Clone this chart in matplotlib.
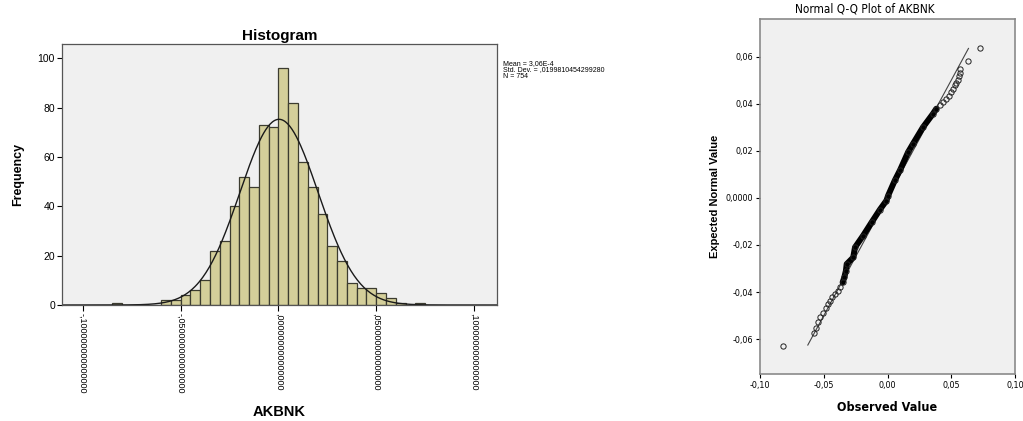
import numpy as np
import matplotlib
matplotlib.use("Agg")
import matplotlib.pyplot as plt

# histogram of AKBNK returns (bins of width 0.005, left edges)
bin_width = 0.005
bin_left = np.round(np.arange(-0.085, 0.0705, bin_width), 3)
counts = [1, 0, 0, 0, 0, 2, 2, 4, 6, 10,
          22, 26, 40, 52, 48, 73, 72, 96, 82, 58,
          48, 37, 24, 18, 9, 7, 7, 5, 3, 1,
          0, 1]
mean = 3.06e-4
std = 0.0199810454299280
n = 754

hist_xticks = [-0.10, -0.05, 0.00, 0.05, 0.10]
hist_yticks = [0, 20, 40, 60, 80, 100]

# normal Q-Q points (observed, expected)
qq_observed = [-0.0816, -0.0573, -0.0563, -0.0547, -0.0529, -0.0503, -0.0484,
               -0.0469, -0.0451, -0.0433, -0.0412, -0.0391, -0.0373, -0.0352,
               -0.0339, -0.0326, -0.0320, -0.0269, -0.0255, -0.0191, -0.0125,
               -0.0060, -0.0008, 0.0005, 0.0057, 0.0100, 0.0161, 0.0200,
               0.0278, 0.0356, 0.0383, 0.0409, 0.0434, 0.0461, 0.0481, 0.0500,
               0.0513, 0.0526, 0.0539, 0.0552, 0.0559, 0.0565, 0.0570, 0.0635,
               0.0727]
qq_expected = [-0.0628, -0.0572, -0.0551, -0.0526, -0.0504, -0.0487, -0.0466,
               -0.0451, -0.0437, -0.0423, -0.0408, -0.0394, -0.0380, -0.0359,
               -0.0338, -0.0309, -0.0281, -0.0253, -0.0210, -0.0160, -0.0104,
               -0.0050, -0.0011, 0.0010, 0.0074, 0.0120, 0.0194, 0.0230,
               0.0300, 0.0357, 0.0379, 0.0393, 0.0407, 0.0421, 0.0435, 0.0449,
               0.0464, 0.0478, 0.0489, 0.0503, 0.0517, 0.0532, 0.0549, 0.0580,
               0.0637]
qq_line = [-0.0625, 0.0635]

qq_xticks = [-0.10, -0.05, 0.00, 0.05, 0.10]
qq_xlabels = ["-0,10", "-0,05", "0,00", "0,05", "0,10"]
qq_yticks = [-0.06, -0.04, -0.02, 0.0, 0.02, 0.04, 0.06]
qq_ylabels = ["-0,06", "-0,04", "-0,02", "0,0000", "0,02", "0,04", "0,06"]

plt.rcParams['font.family'] = ['Liberation Sans', 'DejaVu Sans']
narrow = ['Liberation Sans Narrow', 'DejaVu Sans']
bg = '#f0f0f0'

fig = plt.figure(figsize=(10.23, 4.21), dpi=100)

# ---- histogram ----
ax = fig.add_axes([62 / 1023, 116 / 421, 435 / 1023, 261 / 421])
ax.set_facecolor(bg)
ax.bar(bin_left, counts, width=bin_width, align='edge', color='#d4cf9a',
       edgecolor='#3c3c30', linewidth=0.9)
xs = np.linspace(-0.1106, 0.1117, 400)
curve = n * bin_width * np.exp(-0.5 * ((xs - mean) / std) ** 2) / (std * np.sqrt(2 * np.pi))
ax.plot(xs, curve, color='#1a1a1a', linewidth=1.0)
ax.set_xlim(-0.1106, 0.1117)
ax.set_ylim(0, 105.8)
ax.set_xticks(hist_xticks)
ax.set_xticklabels([f"{v:.15f}".replace("0.", ",", 1) for v in hist_xticks],
                   rotation=-90, fontsize=6.5)
ax.set_yticks(hist_yticks)
ax.tick_params(axis='y', labelsize=7.5, length=3.5, width=0.8, pad=1.5)
ax.tick_params(axis='x', length=4, width=0.8, pad=2)
for s in ax.spines.values():
    s.set_color('#555555')
    s.set_linewidth(0.9)
ax.set_title("Histogram", fontsize=11, fontweight='bold', pad=3)
ax.set_ylabel("Frequency", fontsize=9, fontweight='bold', labelpad=10)
ax.set_xlabel("AKBNK", fontsize=10.5, fontweight='bold', labelpad=8)
fig.text(503 / 1023, 1 - 60 / 421,
         f"Mean = 3,06E-4\nStd. Dev. = ,0199810454299280\nN = {n}",
         fontsize=5, va='top', ha='left', linespacing=0.85)

# ---- normal Q-Q plot ----
qx = fig.add_axes([760 / 1023, 47 / 421, 255 / 1023, 355 / 421])
qx.set_facecolor(bg)
qx.plot(qq_line, qq_line, color='#444444', linewidth=0.8)
obs = np.array(qq_observed)
exp_ = np.array(qq_expected)
dense = (obs > -0.037) & (obs < 0.039)
qx.plot(obs[dense], exp_[dense], color='black', linewidth=4.3,
        solid_capstyle='round', solid_joinstyle='round')
qx.plot(obs, exp_, linestyle='none', marker='o', markersize=3.8,
        markerfacecolor='none', markeredgecolor='#222222', markeredgewidth=0.7)
qx.set_xlim(-0.10, 0.10)
qx.set_ylim(-0.0748, 0.076)
qx.set_xticks(qq_xticks)
qx.set_xticklabels(qq_xlabels, family=narrow, fontstretch='condensed', fontsize=6.5)
qx.set_yticks(qq_yticks)
qx.set_yticklabels(qq_ylabels, family=narrow, fontstretch='condensed', fontsize=6.5)
qx.tick_params(length=3, width=0.8, pad=2)
for s in qx.spines.values():
    s.set_color('#8a8a8a')
    s.set_linewidth(1.2)
qx.set_xlabel("Observed Value", family=narrow, fontstretch='condensed',
              fontsize=9, fontweight='bold', labelpad=8)
qx.set_ylabel("Expected Normal Value", fontsize=8, fontweight='bold', labelpad=4)
fig.text(865 / 1023, 1 - 9 / 421, "Normal Q-Q Plot of AKBNK", family=narrow,
         fontstretch='condensed', fontsize=8.5, ha='center', va='center')

fig.savefig("out.png", dpi=100, facecolor='white')
